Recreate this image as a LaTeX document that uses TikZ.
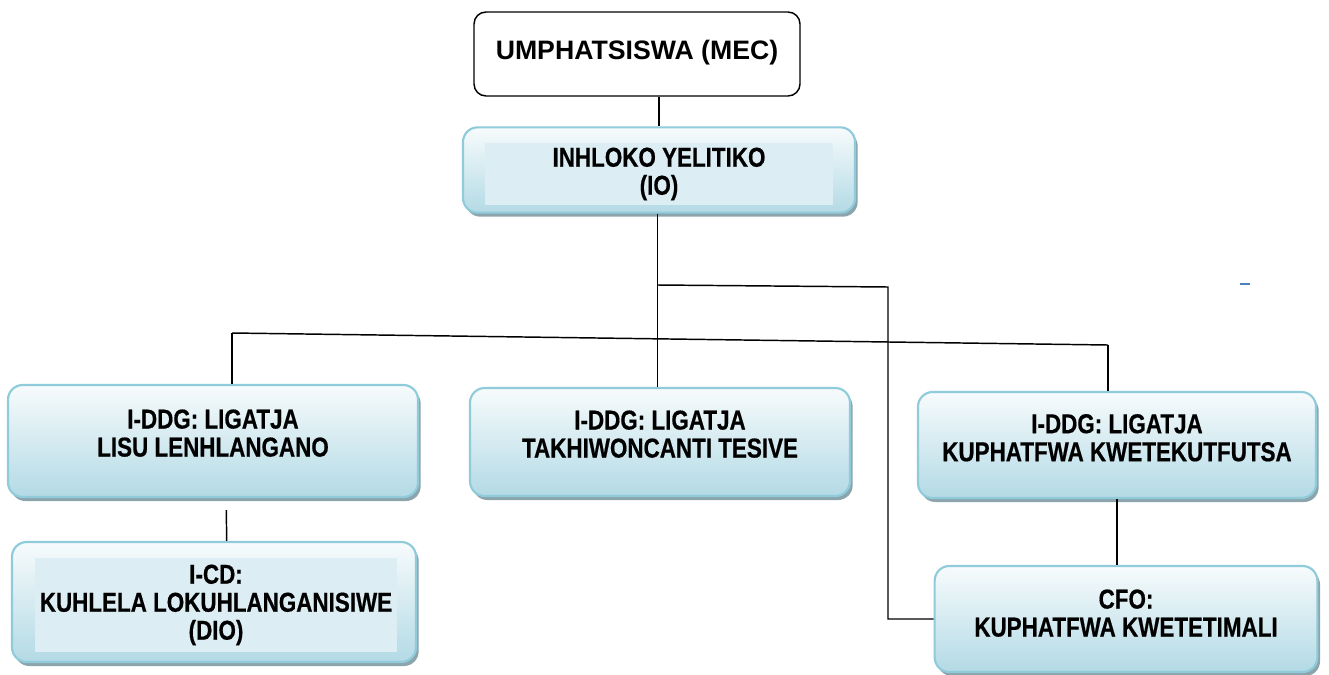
\documentclass[tikz,border=0pt]{standalone}
\usepackage{fontspec}
\setmainfont{Liberation Sans}[FakeStretch=0.82, BoldFeatures={FakeBold=0.5}]
\newfontfamily\widefont{Liberation Sans}
\usetikzlibrary{shadows,calc}

\definecolor{boxline}{HTML}{8FCBDA}
\definecolor{boxtop}{HTML}{F7FBFC}
\definecolor{boxbot}{HTML}{B3DAE5}
\definecolor{panel}{HTML}{DCEEF4}
\definecolor{shade}{HTML}{8CA5AD}
\definecolor{dashblue}{HTML}{4A7FC1}

\begin{document}
\begin{tikzpicture}[x=0.75pt, y=-0.75pt,
    every node/.style={font=\fontsize{20.5}{21}\selectfont\bfseries, align=center},
    topbox/.style={draw, line width=1.1pt, rounded corners=9pt, fill=white,
      font=\widefont\fontsize{20}{21}\selectfont\bfseries},
    unit/.style={draw=boxline, line width=1.6pt, rounded corners=11pt,
      top color=boxtop, bottom color=boxbot,
      drop shadow={shadow xshift=2pt, shadow yshift=-3pt, fill=shade, opacity=1}},
    inpanel/.style={fill=panel, inner sep=0pt},
    link/.style={line width=1.1pt}]

  % frame
  \useasboundingbox (0,0) rectangle (1329,675);

  % top
  \node[topbox, minimum width=244.5pt, minimum height=63pt] (mec) at (637,54)
    {UMPHATSISWA (MEC)\\[-15pt]};

  % head
  \node[unit, minimum width=294pt, minimum height=64pt] (io) at (659,170) {};
  \node[inpanel, minimum width=261pt, minimum height=46.5pt] (iotext) at (659,174)
    {INHLOKO YELITIKO\\(IO)};

  % second row
  \node[unit, minimum width=307.5pt, minimum height=84pt] (lisu) at (213,441)
    {I-DDG: LIGATJA\\LISU LENHLANGANO\\[-9pt]};
  \node[unit, minimum width=285pt, minimum height=81pt] (tesive) at (660,442)
    {I-DDG: LIGATJA\\TAKHIWONCANTI TESIVE\\[-9pt]};
  \node[unit, minimum width=298.5pt, minimum height=79.5pt] (kutfutsa) at (1117,445)
    {I-DDG: LIGATJA\\KUPHATFWA KWETEKUTFUTSA\\[-10pt]};

  % third row
  \node[unit, minimum width=303pt, minimum height=90pt] (dio) at (214,602) {};
  \node[inpanel, minimum width=271.5pt, minimum height=70.5pt] (diotext) at (216,605)
    {I-CD:\\KUHLELA LOKUHLANGANISIWE\\(DIO)};
  \node[unit, minimum width=287pt, minimum height=79.5pt] (timali) at (1126,619)
    {CFO:\\KUPHATFWA KWETETIMALI\\[-12pt]};

  % connectors
  \coordinate (hub) at (658,285);
  \coordinate (elbow) at (888,287);
  \coordinate (barL) at (232,333);
  \coordinate (barR) at (1108,345);

  \draw[link] (io.north |- mec.south) -- (io.north);
  \draw[link] ([xshift=-1pt]io.south) -- ([xshift=-1pt]io.south |- tesive.north);
  \draw[link] (hub) -- (elbow) |- (timali.west);
  \draw[link] (barL) -- (barR);
  \draw[link] (barL) -- (barL |- lisu.north);
  \draw[link] (barR) -- (barR |- kutfutsa.north);
  \draw[link] ([xshift=10pt,yshift=-9pt]lisu.south) -- ([xshift=9.5pt]dio.north);
  \draw[link] (kutfutsa.south) -- (kutfutsa.south |- timali.north);

  % stray mark
  \draw[dashblue, line width=1.5pt] (1240,284) -- (1250,284);
\end{tikzpicture}
\end{document}
